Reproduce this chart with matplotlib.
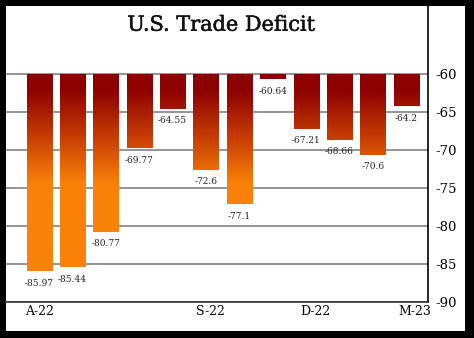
import numpy as np
import matplotlib.pyplot as plt
import matplotlib.patheffects as pe
from matplotlib.colors import LinearSegmentedColormap, Normalize
from matplotlib.patches import Rectangle
from matplotlib.transforms import ScaledTranslation

# monthly trade balance, billions USD (Apr 2022 - Mar 2023)
values = [-85.97, -85.44, -80.77, -69.77, -64.55, -72.6,
          -77.1, -60.64, -67.21, -68.66, -70.6, -64.2]
value_labels = ['-85.97', '-85.44', '-80.77', '-69.77', '-64.55', '-72.6',
                '-77.1', '-60.64', '-67.21', '-68.66', '-70.6', '-64.2']
tick_pos = [0, 5, 8, 11]
tick_labels = ['A-22', 'S-22', 'D-22', 'M-23']
y_ticks = [-60, -65, -70, -75, -80, -85, -90]

BASE = -60
FONT = 'DejaVu Serif'

fig = plt.figure(figsize=(4.74, 3.38), dpi=100, facecolor='black')
# white card inside the black frame
fig.patches.append(Rectangle((6 / 474, 7 / 338), 459 / 474, 325 / 338,
                             transform=fig.transFigure, facecolor='white',
                             edgecolor='none', zorder=-5))

ax = fig.add_axes([6 / 474, 36 / 338, 422 / 474, 296 / 338])
ax.set_facecolor('none')

# orange at the deep end, dark red near the -60 baseline
cmap = LinearSegmentedColormap.from_list('deficit', ['#fa8208', '#c63c04', '#8c0000'])
norm = Normalize(vmin=-74.5, vmax=-62, clip=True)

x = np.arange(len(values))
width = 0.75
bars = ax.bar(x, np.array(values) - BASE, bottom=BASE, width=width,
              color='none', edgecolor='none', zorder=2)

# fill each bar with the same vertical colour ramp
for rect, v in zip(bars, values):
    ys = np.linspace(BASE, v, 200)
    img = cmap(norm(ys))[:, None, :]
    x0 = rect.get_x()
    im = ax.imshow(img, extent=(x0, x0 + width, v, BASE), origin='upper',
                   aspect='auto', zorder=2, interpolation='bilinear')
    im.set_clip_path(rect)

for xi, v, lab in zip(x, values, value_labels):
    ax.annotate(lab, (xi, v), xytext=(0, -5.5), textcoords='offset points',
                ha='center', va='top', fontsize=6.5, family=FONT, color='#222222')

ax.set_xlim(-0.99, 11.65)
ax.set_ylim(-90, -51.05)

for t in y_ticks:
    ax.axhline(t, color='#8c8c8c', lw=1.3, zorder=1)

ax.yaxis.tick_right()
ax.set_yticks(y_ticks)
ax.set_yticklabels([str(t) for t in y_ticks], family=FONT, fontsize=9.5)
ax.set_xticks(tick_pos)
ax.set_xticklabels(tick_labels, family=FONT, fontsize=9)
ax.tick_params(axis='y', length=0, pad=5)
ax.tick_params(axis='x', length=0, pad=2.5)

# nudge the later month labels a little to the right
for lbl, dx in zip(ax.get_xticklabels(), [0, 4, 9, 8]):
    lbl.set_transform(lbl.get_transform() + ScaledTranslation(dx / 100, 0, fig.dpi_scale_trans))

for side in ['top', 'left']:
    ax.spines[side].set_visible(False)
ax.spines['right'].set_color('black')
ax.spines['right'].set_linewidth(1.2)
ax.spines['bottom'].set_color('#333333')
ax.spines['bottom'].set_linewidth(1.2)

ax.text(0.511, 0.935, 'U.S. Trade Deficit', transform=ax.transAxes,
        ha='center', va='center', fontsize=15, family=FONT, color='#111111',
        path_effects=[pe.withStroke(linewidth=0.35, foreground='#111111')])

fig.savefig('out.png', dpi=100, facecolor='black')
